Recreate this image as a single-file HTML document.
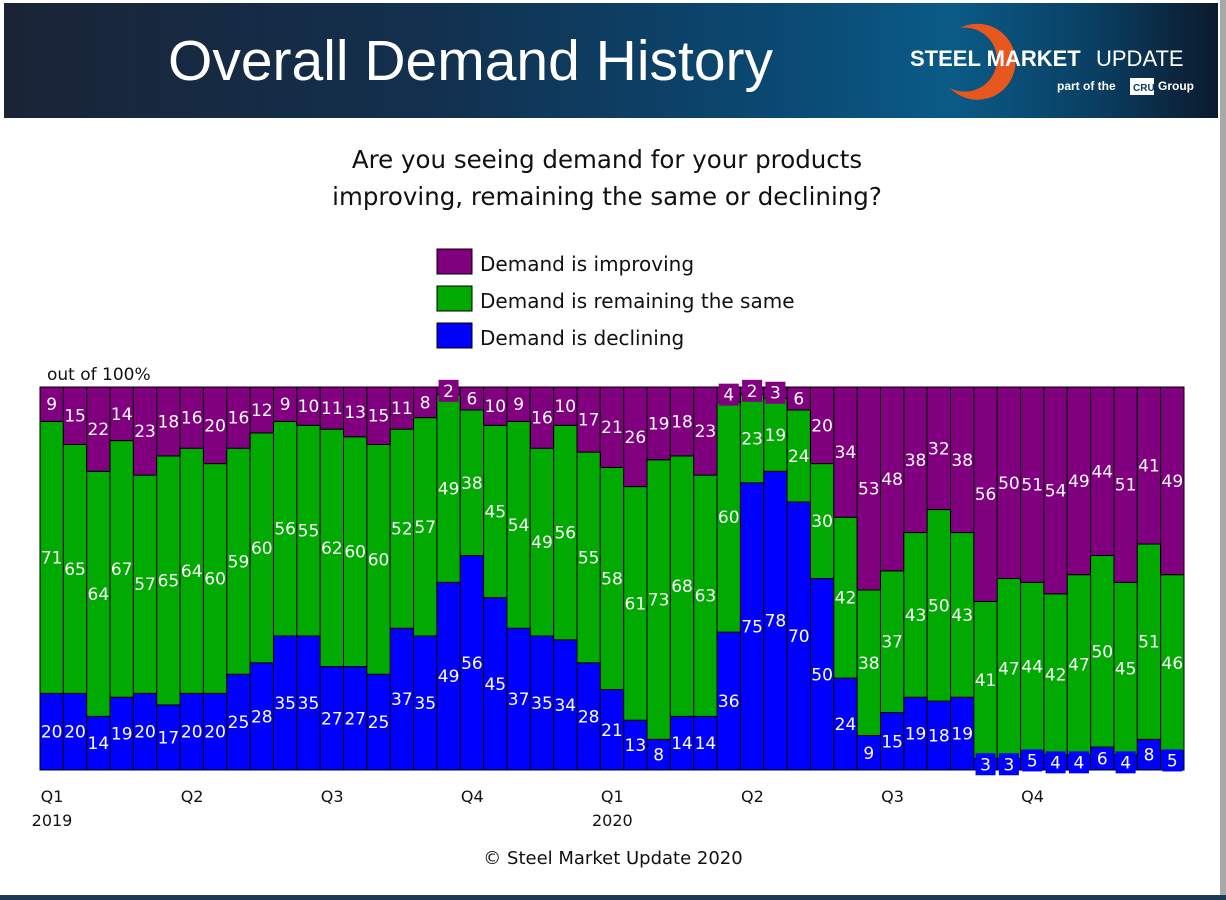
<!DOCTYPE html>
<html><head><meta charset="utf-8"><style>
body{margin:0;width:1226px;height:900px;background:#fff;position:relative;overflow:hidden;font-family:"Liberation Sans","DejaVu Sans",sans-serif}
.hdr{position:absolute;left:4px;top:3px;width:1214px;height:115px;background:linear-gradient(90deg,#1a2436 0%,#12304e 35%,#0a4a74 65%,#0a5b87 78%,#0a3e62 90%,#0c1a2c 100%)}
.title{position:absolute;left:168px;top:28px;color:#fff;font-size:57px}
.frame{position:absolute;right:0;top:0;width:6px;height:900px;background:#a8a8a8}
.bot{position:absolute;left:0;bottom:0;width:1226px;height:5px;background:#1f3a55}
</style></head><body>
<div class="hdr"></div>
<div class="title">Overall Demand History</div>
<svg style="position:absolute;left:900px;top:10px" width="300" height="100">
<path d="M60 18 A38 38 0 1 1 50 78 A32 32 0 1 0 60 18Z" fill="#e8571e"/>
<text x="10" y="56" fill="#fff" font-size="22" font-weight="bold" font-family="Liberation Sans">STEEL MARKET</text>
<text x="196" y="56" fill="#fff" font-size="22" font-family="Liberation Sans">UPDATE</text>
<text x="157" y="80" fill="#fff" font-size="12" font-weight="bold" font-family="Liberation Sans">part of the</text>
<rect x="230" y="68" width="24" height="17" fill="#fff"/><text x="233" y="81" font-size="10" font-weight="bold" fill="#0a3e62" font-family="Liberation Sans">CRU</text>
<text x="258" y="80" fill="#fff" font-size="12" font-weight="bold" font-family="Liberation Sans">Group</text>
</svg>
<div class="frame"></div>
<div class="bot"></div>
<svg id="c" width="1226" height="900" style="position:absolute;left:0;top:0" font-family="DejaVu Sans, sans-serif">
<text x="607" y="168" font-size="24.5" text-anchor="middle" fill="#111">Are you seeing demand for your products</text>
<text x="607" y="205" font-size="24.5" text-anchor="middle" fill="#111">improving, remaining the same or declining?</text>
<g>
<rect x="437" y="249" width="35" height="25" fill="#800080" stroke="#000"/><text x="480" y="271" font-size="20" fill="#111">Demand is improving</text>
<rect x="437" y="286" width="35" height="25" fill="#00aa00" stroke="#000"/><text x="480" y="308" font-size="20" fill="#111">Demand is remaining the same</text>
<rect x="437" y="323" width="35" height="25" fill="#0000ff" stroke="#000"/><text x="480" y="345" font-size="20" fill="#111">Demand is declining</text>
</g>
<text x="47" y="380" font-size="17" fill="#111">out of 100%</text>
<g id="bars"></g>
<text x="613" y="864" font-size="18" text-anchor="middle" fill="#111">© Steel Market Update 2020</text>
</svg>
<script>
const declining=[20,20,14,19,20,17,20,20,25,28,35,35,27,27,25,37,35,49,56,45,37,35,34,28,21,13,8,14,14,36,75,78,70,50,24,9,15,19,18,19,3,3,5,4,4,6,4,8,5];
const same=[71,65,64,67,57,65,64,60,59,60,56,55,62,60,60,52,57,49,38,45,54,49,56,55,58,61,73,68,63,60,23,19,24,30,42,38,37,43,50,43,41,47,44,42,47,50,45,51,46];
const improving=[9,15,22,14,23,18,16,20,16,12,9,10,11,13,15,11,8,2,6,10,9,16,10,17,21,26,19,18,23,4,2,3,6,20,34,53,48,38,32,38,56,50,51,54,49,44,51,41,49];
const quarterLabels=["Q1","Q2","Q3","Q4","Q1","Q2","Q3","Q4"];
const quarterIdx=[0,6,12,18,24,30,36,42];
const yearLabels=["2019","2020"];
const yearIdx=[0,24];
const X0=40,X1=1184,Y0=770,Y1=387;
const n=declining.length,bw=(X1-X0)/n;
const xs=i=>X0+i*bw;
const ys=v=>Y0-v*(Y0-Y1)/100;
const g=document.getElementById('bars');
const NS='http://www.w3.org/2000/svg';
function mk(t,a){const e=document.createElementNS(NS,t);for(const k in a)e.setAttribute(k,a[k]);g.appendChild(e);return e;}
const series=[[declining,'#0000ff','declining'],[same,'#00aa00','same'],[improving,'#800080','improving']];
const labels=[];
for(let i=0;i<n;i++){
  let base=0;
  for(const [arr,col,nm] of series){
    const v=arr[i];
    const r=mk('rect',{x:xs(i),y:ys(base+v),width:bw,height:ys(base)-ys(base+v),fill:col,stroke:'#000','stroke-width':1});
    
    
    labels.push([i,base+v/2,v,col,nm]);
    base+=v;
  }
}
for(const [i,mid,v,col,nm] of labels){
  const cx=xs(i)+bw/2,cy=ys(mid);
  if(ys(0)-ys(v)<20){
    const b=mk('rect',{x:cx-10,y:cy-11,width:20,height:22,fill:col});
    
    
  }
  const t=mk('text',{x:cx,y:cy+6,'text-anchor':'middle','font-size':17,fill:'#fff'});
  
  
  t.textContent=v;
}
quarterLabels.forEach((q,k)=>{
  const t=mk('text',{x:xs(quarterIdx[k])+12,y:802,'text-anchor':'middle','font-size':16,fill:'#111'});
  
  
  t.textContent=q;
});
yearLabels.forEach((q,k)=>{
  const t=mk('text',{x:xs(yearIdx[k])+12,y:826,'text-anchor':'middle','font-size':16,fill:'#111'});
  
  
  t.textContent=q;
});
</script>
</body></html>
